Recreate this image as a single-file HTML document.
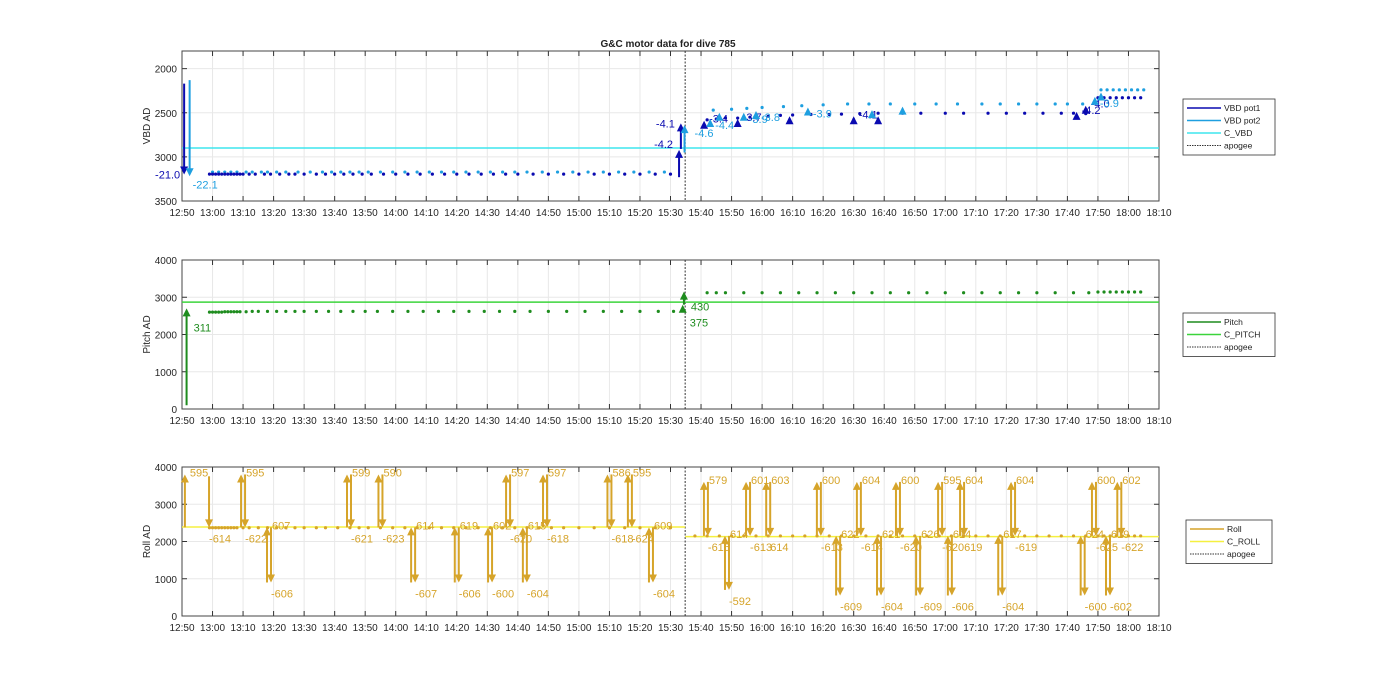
<!DOCTYPE html>
<html><head><meta charset="utf-8"><style>
body{margin:0;background:#fff}
svg{display:block;font-family:"Liberation Sans",Arial,sans-serif}
</style></head><body>
<svg id="c" width="1400" height="693" viewBox="0 0 1400 693" xmlns="http://www.w3.org/2000/svg">
<text x="668" y="47" text-anchor="middle" font-size="10" font-weight="bold" fill="#222">G&amp;C motor data for dive 785</text>
</svg>
<script>
// ---- shared x data ----
const xTickLabels = ["12:50","13:00","13:10","13:20","13:30","13:40","13:50","14:00","14:10","14:20","14:30","14:40","14:50","15:00","15:10","15:20","15:30","15:40","15:50","16:00","16:10","16:20","16:30","16:40","16:50","17:00","17:10","17:20","17:30","17:40","17:50","18:00","18:10"];
const apogeeTime = 164.8; // minutes after 12:50

// ---- VBD panel data ----
const vbdTicks = [2000,2500,3000,3500];
const cVbd = 2900;
const pot1Times = [9,10,11,12,13,14,15,16,17,18,19,20,22,24,27,29,32,35,37,40,44,47,50,53,56,59,62,66,70,74,78,82,86,90,94,98,102,106,110,115,120,125,130,135,140,145,150,155,160,172,175,178,182,186,192,196,200,206,212,216,222,228,236,242,250,256,264,270,276,282,288,292,296,300,302,304,306,308,310,312,314];
const pot1Vals = [3195,3195,3195,3195,3195,3195,3195,3195,3195,3195,3195,3195,3195,3195,3195,3195,3195,3195,3195,3195,3195,3195,3195,3195,3195,3195,3195,3195,3195,3195,3195,3195,3195,3195,3195,3195,3195,3195,3195,3195,3195,3195,3195,3195,3195,3195,3195,3195,3195,2580,2570,2560,2560,2550,2540,2530,2525,2520,2520,2515,2510,2505,2505,2505,2505,2505,2505,2505,2505,2505,2505,2505,2510,2330,2330,2330,2330,2330,2330,2330,2330];
const pot2Times = [10,12,14,16,18,21,23,26,28,31,34,38,42,46,49,52,55,58,61,65,69,73,77,81,85,89,93,97,101,105,109,113,118,123,128,133,138,143,148,153,158,174,180,185,190,197,203,210,218,225,232,240,247,254,262,268,274,280,286,290,295,301,303,305,307,309,311,313,315];
const pot2Vals = [3172,3172,3172,3172,3172,3172,3172,3172,3172,3172,3172,3172,3172,3172,3172,3172,3172,3172,3172,3172,3172,3172,3172,3172,3172,3172,3172,3172,3172,3172,3172,3172,3172,3172,3172,3172,3172,3172,3172,3172,3172,2470,2460,2450,2440,2430,2420,2410,2400,2400,2400,2400,2400,2400,2400,2400,2400,2400,2400,2400,2400,2240,2240,2240,2240,2240,2240,2240,2240];
const vbdArrowTimes = [0.7,2.5,162.8,163.4,164.6,171,173,176,182,184,188,199,205,220,226,228,236,293,296,299,301];
const vbdArrowFrom  = [2170,2130,3230,2910,2950,2620,2590,2560,2600,2560,2540,2560,2480,2560,2500,2560,2450,2520,2480,2380,2330];
const vbdArrowTo    = [3200,3220,2920,2620,2640,2590,2570,2500,2570,2500,2480,2540,2440,2540,2470,2540,2430,2490,2420,2320,2270];
const vbdArrowLabel = ["-21.0","-22.1","-4.2","-4.1","-4.6","-3.4","-4.4","","-3.7","-3.9","-3.8","","-3.9","-4.1","","",""," -4.2","-4.0","-3.9",""];
const vbdArrowSeries= [1,2,1,1,2,1,2,2,1,2,2,1,2,1,2,1,2,1,1,2,2];

// ---- Pitch panel data ----
const pitchTicks = [0,1000,2000,3000,4000];
const cPitch = 2870;
const pitchTimes = [9,10,11,12,13,14,15,16,17,18,19,21,23,25,28,31,34,37,40,44,48,52,56,60,64,69,74,79,84,89,94,99,104,109,114,120,126,132,138,144,150,156,161,172,175,178,184,190,196,202,208,214,220,226,232,238,244,250,256,262,268,274,280,286,292,297,300,302,304,306,308,310,312,314];
const pitchVals = [2600,2600,2600,2600,2600,2610,2610,2610,2610,2610,2610,2610,2620,2620,2620,2620,2620,2620,2620,2620,2620,2620,2620,2620,2620,2620,2620,2620,2620,2620,2620,2620,2620,2620,2620,2620,2620,2620,2620,2620,2620,2620,2620,3120,3120,3120,3120,3120,3120,3120,3120,3120,3120,3120,3120,3120,3120,3120,3120,3120,3120,3120,3120,3120,3120,3120,3140,3140,3140,3140,3140,3140,3140,3140];
const pitchArrowTimes = [1.5,164,164.4];
const pitchArrowFrom  = [100,2620,2800];
const pitchArrowTo    = [2700,2800,3150];
const pitchArrowLabel = ["311","375","430"];

// ---- Roll panel data ----
const rollTicks = [0,1000,2000,3000,4000];
const cRollPre = 2390, cRollPost = 2130;
const rollTimes = [9,10,11,12,13,14,15,16,17,18,20,22,25,28,31,34,37,40,44,47,51,55,58,61,65,69,73,77,81,85,89,93,97,101,105,109,113,117,121,125,130,135,140,145,150,155,160,168,172,176,180,184,188,192,196,200,204,208,212,216,220,224,228,232,236,240,244,248,252,256,260,264,268,272,276,280,284,288,292,296,300,302,304,306,308,310,312,314];
const rollVals = [2370,2370,2370,2370,2370,2370,2370,2370,2370,2370,2370,2370,2370,2370,2370,2370,2370,2370,2370,2370,2370,2370,2370,2370,2370,2370,2370,2370,2370,2370,2370,2370,2370,2370,2370,2370,2370,2370,2370,2370,2370,2370,2370,2370,2370,2370,2370,2150,2150,2150,2150,2150,2150,2150,2150,2150,2150,2150,2150,2150,2150,2150,2150,2150,2150,2150,2150,2150,2150,2150,2150,2150,2150,2150,2150,2150,2150,2150,2150,2150,2150,2150,2150,2150,2150,2150,2150,2150];
const rollEvtTimes = [1.6,8.2,20,28.5,54.7,65,75.7,90,100.9,106.8,112.3,118.9,140,146.7,153.6,171.6,178.5,185.4,192,208.6,214.9,221.7,228.3,234.5,241.1,248.3,251.5,255.5,268,272.2,295,298.7,303.3,307];
const rollEvtHigh  = [3800,3750,3800,2380,3800,3800,2380,2380,2380,3800,2380,3800,3800,3800,2380,3600,2150,3600,3600,3600,2150,3600,2150,3600,2150,3600,2150,3600,2150,3600,2150,3600,2150,3600];
const rollEvtLow   = [2380,2380,2380,900,2380,2380,900,900,900,2380,900,2380,2380,2380,900,2150,700,2150,2150,2150,550,2150,550,2150,550,2150,550,2150,550,2150,550,2150,550,2150];
const rollEvtUp    = ["595","","595","607","599","590","614","619","602","597","615","597","586","595","609","579","614","601","603","600","622","604","621","600","626","595","614","604","617","604","624","600","619","602"];
const rollEvtDown  = ["","-614","-622","-606","-621","-623","-607","-606","-600","-620","-604","-618","-618","-624","-604","-616","-592","-613","614","-613","-609","-614","-604","-620","-609","-620","-606","619","-604","-619","-600","-625","-602","-622"];

// ---- drawing ----
const NS="http://www.w3.org/2000/svg", svg=document.getElementById('c');
const X0=182, X1=1159, TMAX=320;
const xs = t => X0 + t*(X1-X0)/TMAX;
function mk(tag, attrs, parent){const e=document.createElementNS(NS,tag);for(const k in attrs)e.setAttribute(k,attrs[k]);(parent||svg).appendChild(e);return e;}
function txt(x,y,s,attrs,parent){const e=mk('text',Object.assign({x:x,y:y},attrs||{}),parent);e.textContent=s;return e;}

function axes(name, top, bot, ys, yTicks, yLabel){
  const g=mk('g',{});
  
  
  mk('rect',{x:X0,y:top,width:X1-X0,height:bot-top,fill:'#fff'},g);
  xTickLabels.forEach((lab,i)=>{
    const x=xs(i*10);
    mk('line',{x1:x,x2:x,y1:top,y2:bot,stroke:'#e8e8e8','stroke-width':1},g);
    mk('line',{x1:x,x2:x,y1:bot,y2:bot-5,stroke:'#333'},g);
    mk('line',{x1:x,x2:x,y1:top,y2:top+5,stroke:'#333'},g);
    const t=txt(x,bot+15,lab,{'text-anchor':'middle','font-size':10,fill:'#262626'},g);
    
    
  });
  yTicks.forEach(v=>{
    const y=ys(v);
    mk('line',{x1:X0,x2:X1,y1:y,y2:y,stroke:'#e8e8e8'},g);
    mk('line',{x1:X0,x2:X0+5,y1:y,y2:y,stroke:'#333'},g);
    mk('line',{x1:X1,x2:X1-5,y1:y,y2:y,stroke:'#333'},g);
    const t=txt(X0-5,y+4,String(v),{'text-anchor':'end','font-size':10,fill:'#262626'},g);
    
    
  });
  mk('rect',{x:X0,y:top,width:X1-X0,height:bot-top,fill:'none',stroke:'#444','stroke-width':1},g);
  const yl=txt(0,0,yLabel,{'text-anchor':'middle','font-size':10,fill:'#262626',transform:`translate(150,${(top+bot)/2}) rotate(-90)`},g);
  
  
  const ax=xs(apogeeTime);
  const ap=mk('line',{x1:ax,x2:ax,y1:top,y2:bot,stroke:'#333','stroke-dasharray':'2,1.5','stroke-width':1},g);
  
  
  return g;
}
function arrow(g,x,y1,y2,color,w,name){
  const dir = y2>y1?1:-1;
  const ln=mk('line',{x1:x,x2:x,y1:y1,y2:y2-dir*6,stroke:color,'stroke-width':w},g);
  const hd=mk('polygon',{points:`${x-4},${y2-dir*8} ${x+4},${y2-dir*8} ${x},${y2}`,fill:color},g);
  
  
  
  
}
function dots(g,times,vals,ys,color,name){
  times.forEach((t,i)=>{
    const d=mk('circle',{cx:xs(t),cy:ys(vals[i]),r:1.6,fill:color},g);
    
    
  });
}
function legend(x,y,w,entries){
  const g=mk('g',{});
  
  
  mk('rect',{x:x,y:y,width:w,height:entries.length*12.5+6,fill:'#fff',stroke:'#333','stroke-width':0.8},g);
  entries.forEach((e,i)=>{
    const yy=y+9+i*12.5;
    const l=mk('line',{x1:x+4,x2:x+38,y1:yy,y2:yy,stroke:e[1],'stroke-width':e[2]?1:1.5},g);
    if(e[2]) l.setAttribute('stroke-dasharray','1.5,1');
    const t=txt(x+41,yy+3,e[0],{'font-size':8.5,fill:'#222'},g);
    
    
  });
}

// VBD
const C1='#0a0ab0', C2='#1e9fe0', C3='#3ee6ee';
const ysV = v => 51 + (v-1800)*150/1700;
const gV=axes('vbd',51,201,ysV,vbdTicks,'VBD AD');
const cv=mk('line',{x1:X0,x2:X1,y1:ysV(cVbd),y2:ysV(cVbd),stroke:C3,'stroke-width':1.5},gV);


dots(gV,pot2Times,pot2Vals,ysV,C2,'vbd-pot2-point');
dots(gV,pot1Times,pot1Vals,ysV,C1,'vbd-pot1-point');
vbdArrowTimes.forEach((t,i)=>{
  const col = vbdArrowSeries[i]===1?C1:C2;
  const x=xs(t), y2=ysV(vbdArrowTo[i]);
  arrow(gV,x,ysV(vbdArrowFrom[i]),y2,col,2,'vbd-arrow');
  const lab=vbdArrowLabel[i]; if(!lab) return;
  let tx, anchor='start', ty=y2+4;
  if(i===0){tx=x-4;anchor='end';}
  else if(i===1){tx=x+3;ty=y2+12;}
  else if(i===2||i===3){tx=x-6;anchor='end';ty=y2+(i===2?-2:4);}
  else if(i===4){tx=x+10;ty=y2+12;}
  else {tx=x+5;ty=y2+(vbdArrowSeries[i]===2?10:2);}
  const tt=txt(tx,ty,lab,{'text-anchor':anchor,'font-size':11,fill:col},gV);
  
  
});
legend(1183,99,92,[['VBD pot1',C1],['VBD pot2',C2],['C_VBD',C3],['apogee','#333',1]]);

// Pitch
const P1='#1e8c1e', P2='#3bd43b';
const ysP = v => 409 - v*149/4000;
const gP=axes('pitch',260,409,ysP,pitchTicks,'Pitch AD');
const cp=mk('line',{x1:X0,x2:X1,y1:ysP(cPitch),y2:ysP(cPitch),stroke:P2,'stroke-width':1.5},gP);


dots(gP,pitchTimes,pitchVals,ysP,P1,'pitch-point');
pitchArrowTimes.forEach((t,i)=>{
  const x=xs(t), y2=ysP(pitchArrowTo[i]);
  arrow(gP,x,ysP(pitchArrowFrom[i]),y2,P1,2,'pitch-arrow');
  const ty = i===0? y2+23 : (i===1? ysP(pitchArrowFrom[i])+15 : ysP(pitchArrowFrom[i])+6);
  const tt=txt(x+7,ty,pitchArrowLabel[i],{'font-size':11,fill:P1},gP);
  
  
});
legend(1183,313,92,[['Pitch',P1],['C_PITCH',P2],['apogee','#333',1]]);

// Roll
const R1='#d6a42a', R2='#f5f040';
const ysR = v => 616 - v*149/4000;
const gR=axes('roll',467,616,ysR,rollTicks,'Roll AD');
const ax=xs(apogeeTime);
let cr=mk('line',{x1:X0,x2:ax,y1:ysR(cRollPre),y2:ysR(cRollPre),stroke:R2,'stroke-width':1.5},gR);


cr=mk('line',{x1:ax,x2:X1,y1:ysR(cRollPost),y2:ysR(cRollPost),stroke:R2,'stroke-width':1.5},gR);


dots(gR,rollTimes,rollVals,ysR,R1,'roll-point');
rollEvtTimes.forEach((t,i)=>{
  const x=xs(t), yh=ysR(rollEvtHigh[i]), yl=ysR(rollEvtLow[i]);
  if(rollEvtUp[i]) arrow(gR,x-2,yl,yh,R1,2,'roll-arrow-up');
  if(rollEvtDown[i]) arrow(gR,x+2,yh,yl,R1,2,'roll-arrow-down');
  if(rollEvtUp[i]){
    const a=txt(x+3,yh+2,rollEvtUp[i],{'font-size':11,fill:R1},gR);
    
    
  }
  if(rollEvtDown[i]){
    const b=txt(x+2,yl+15,rollEvtDown[i],{'font-size':11,fill:R1},gR);
    
    
  }
});
legend(1186,520,86,[['Roll',R1],['C_ROLL',R2],['apogee','#333',1]]);
</script>
</body></html>
